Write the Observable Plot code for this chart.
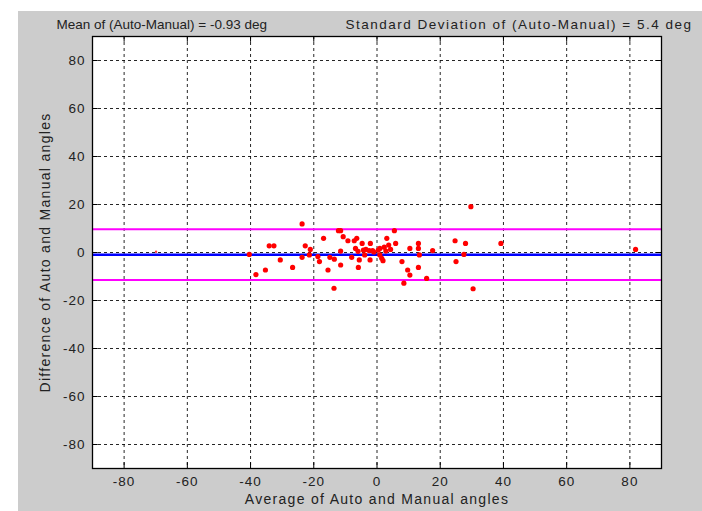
<!DOCTYPE html>
<html>
<head>
<meta charset="utf-8">
<script src="https://cdn.jsdelivr.net/npm/d3@7"></script>
<script src="https://cdn.jsdelivr.net/npm/@observablehq/plot@0.6"></script>
<style>
  html, body { margin: 0; padding: 0; background: #ffffff; }
  #wrap { position: relative; width: 702px; height: 511px; overflow: hidden; }
  #bg { position: absolute; left: 18px; top: 11px; right: 0; bottom: 0; background: #cccccc; }
  #chart { position: absolute; left: 0; top: 0; }
</style>
</head>
<body>
<div id="wrap"><div id="bg"></div><div id="chart"></div></div>
<script>
const xTicks = [-80, -60, -40, -20, 0, 20, 40, 60, 80];
const yTicks = [-80, -60, -40, -20, 0, 20, 40, 60, 80];
const titleLeft = "Mean of (Auto-Manual) = -0.93 deg";
const titleRight = "Standard Deviation of (Auto-Manual) = 5.4 deg";
const xLabel = "Average of Auto and Manual angles";
const yLabel = "Difference of Auto and Manual angles";
const meanDiff = [-0.93];
const limits = [9.65, -11.5];

// Average of Auto and Manual angles
const avg = [-69.9, -40.4, -38.3, -35.3, -34.1, -32.6, -30.6, -26.7, -23.7, -23.7, -22.7, -21.1, -21.4,
  -18.7, -18.2, -16.9, -15.5, -14.9, -13.5, -13.6, -12.2, -11.5, -11.5, -11.5, -10.7, -9.2, -8.0,
  -7.2, -6.4, -5.9, -5.6, -4.7, -6.8, -4.3, -3.9, -2.1, -2.2, -3.5, -2.5, -1.4, 0.9, 0.4, 0.9, 1.5,
  1.9, 2.3, 3.1, 3.7, 4.3, 5.5, 5.9, 7.9, 8.5, 9.7, 10.4, 10.4, 13.1, 13.1, 13.4, 13.1, 15.7, 17.6,
  -6.0, -1.0, 2.8, 24.7, 25.0, 28.0, 27.5, 29.7, 30.4, 39.2, 81.8];
// Difference of Auto and Manual angles
const diff = [0.3, -0.8, -9.2, -7.3, 2.8, 2.8, -3.1, -6.2, 11.9, -2.0, 2.8, 1.3, -1.0,
  -1.7, -3.8, 5.9, -7.3, -2.0, -2.8, -14.9, 9.1, 9.1, -5.2, 0.6, 6.6, 4.9, -2.0,
  4.9, 5.9, -6.2, -3.1, 3.8, 1.7, 1.0, -1.0, 3.8, -3.1, 1.3, 0.8, 0.8, 1.7, 1.0, -1.0, -2.4,
  -3.4, 2.2, 5.9, 3.1, 1.3, 9.1, 3.8, -3.8, -12.8, -7.3, -9.4, 1.7, 3.8, 1.7, -1.0, -6.2, -10.8, 0.8,
  0.5, 0.2, 0.6, 4.9, -3.8, 3.8, -0.8, 19.1, -15.1, 3.8, 1.3];

const points = avg.map((a, i) => ({avg: a, diff: diff[i], small: i === 0}));
const fmt = d => String(d);
const font = "'Liberation Sans', Arial, Helvetica, sans-serif";
const ink = "#222222";
const gridStyle = {stroke: "#000", strokeOpacity: 0.85, strokeDasharray: "3,3", strokeWidth: 1};

const chart = Plot.plot({
  width: 702,
  height: 511,
  marginLeft: 92,
  marginRight: 41,
  marginTop: 36,
  marginBottom: 43,
  style: {background: "transparent", fontFamily: font, fontSize: "13px", color: ink, overflow: "visible", letterSpacing: "1px"},
  x: {domain: [-90, 90], label: null},
  y: {domain: [-90, 90], label: null},
  marks: [
    Plot.frame({fill: "white", stroke: null}),
    Plot.gridX(xTicks, gridStyle),
    Plot.gridY(yTicks, gridStyle),
    Plot.ruleY(limits, {stroke: "#ff00ff", strokeWidth: 2}),
    Plot.ruleY(meanDiff, {stroke: "#0000ff", strokeWidth: 2.5}),
    Plot.dot(points.filter(d => !d.small), {x: "avg", y: "diff", r: 2.6, fill: "#ff0000", stroke: null}),
    Plot.dot(points.filter(d => d.small), {x: "avg", y: "diff", r: 1.2, fill: "#ff4040", stroke: null}),
    // inward tick marks on all four sides
    Plot.ruleX(xTicks, {y1: -90, y2: -87.6, stroke: "#000"}),
    Plot.ruleX(xTicks, {y1: 90, y2: 87.6, stroke: "#000"}),
    Plot.ruleY(yTicks, {x1: -90, x2: -88.2, stroke: "#000"}),
    Plot.ruleY(yTicks, {x1: 90, x2: 88.2, stroke: "#000"}),
    Plot.frame({stroke: "#000", strokeWidth: 1.3}),
    Plot.axisX(xTicks, {tickSize: 0, tickPadding: 8, tickFormat: fmt, label: null, fontSize: 13.5, fill: ink}),
    Plot.axisY(yTicks, {tickSize: 0, tickPadding: 7, tickFormat: fmt, label: null, fontSize: 13.5, fill: ink}),
    Plot.text([xLabel], {frameAnchor: "bottom", dy: 35, fontSize: 14, fill: ink}),
    Plot.text([yLabel], {frameAnchor: "left", textAnchor: "middle", dx: -47, rotate: -90, fontSize: 14, fill: ink}),
    Plot.text([titleLeft], {frameAnchor: "top-left", textAnchor: "start", dx: -36, dy: -17, fontSize: 13.5, fill: ink}),
    Plot.text([titleRight], {frameAnchor: "top-left", textAnchor: "start", dx: 253, dy: -17, fontSize: 13.5, fill: ink})
  ]
});
// per-text letter spacing tweaks to match the stretched reference lettering
d3.select(chart).selectAll("text").each(function() {
  const t = this.textContent;
  const sel = d3.select(this);
  if (t === titleLeft) sel.style("letter-spacing", "0px");
  else if (t === titleRight) sel.style("letter-spacing", "1.5px");
  else if (t === xLabel || t === yLabel) sel.style("letter-spacing", "1.3px");
});
document.getElementById("chart").appendChild(chart);
</script>
</body>
</html>
